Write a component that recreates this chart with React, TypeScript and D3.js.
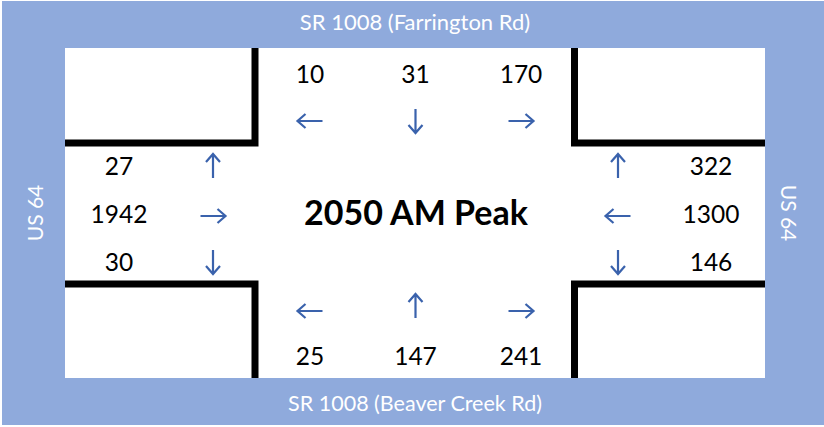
import React from 'react';
import * as d3 from 'd3';

// turning movement volumes per approach, in slot order
const northVolumes = [10, 31, 170];
const northArrows = ['W', 'S', 'E'];
const southVolumes = [25, 147, 241];
const southArrows = ['W', 'N', 'E'];
const westVolumes = [27, 1942, 30];
const westArrows = ['N', 'E', 'S'];
const eastVolumes = [322, 1300, 146];
const eastArrows = ['N', 'W', 'S'];

const title = '2050 AM Peak';
const northRoad = 'SR 1008 (Farrington Rd)';
const southRoad = 'SR 1008 (Beaver Creek Rd)';
const westRoad = 'US 64';
const eastRoad = 'US 64';

const width = 824;
const height = 427;
const blue = '#8FAADC';
const arrowColor = '#3A62AC';
const font = "Lato, 'Open Sans', sans-serif";

// inner white area and road edges
const inner = { x0: 65, x1: 765, y0: 48, y1: 378 };
const road = { left: 255, right: 574.5, top: 143, bottom: 284 };

const slotX = d3.scalePoint<number>().domain([0, 1, 2]).range([310, 521]);
const slotY = d3.scalePoint<number>().domain([0, 1, 2]).range([166, 262]);

const dirs: Record<string, [number, number]> = {
  E: [1, 0],
  W: [-1, 0],
  N: [0, -1],
  S: [0, 1]
};

const arrowPath = (cx: number, cy: number, dir: string) => {
  const [ux, uy] = dirs[dir];
  const len = ux === 0 ? 24 : 25;
  const back = 8;
  const side = 7;
  const px = -uy;
  const py = ux;
  const tipX = cx + (ux * len) / 2;
  const tipY = cy + (uy * len) / 2;
  const p = d3.path();
  p.moveTo(cx - (ux * len) / 2, cy - (uy * len) / 2);
  p.lineTo(tipX, tipY);
  p.moveTo(tipX - ux * back + px * side, tipY - uy * back + py * side);
  p.lineTo(tipX, tipY);
  p.lineTo(tipX - ux * back - px * side, tipY - uy * back - py * side);
  return p.toString();
};

type Mark = { value: number; dir: string; nx: number; ny: number; ax: number; ay: number };

const buildMarks = (): Mark[] => {
  const marks: Mark[] = [];
  northVolumes.forEach((v, i) => {
    const dir = northArrows[i];
    marks.push({ value: v, dir, nx: slotX(i)!, ny: 74, ax: slotX(i)!, ay: 121 });
  });
  southVolumes.forEach((v, i) => {
    const dir = southArrows[i];
    const ay = dir === 'N' ? 306 : 311;
    marks.push({ value: v, dir, nx: slotX(i)!, ny: 356, ax: slotX(i)!, ay });
  });
  westVolumes.forEach((v, i) => {
    const dir = westArrows[i];
    const ay = dir === 'E' ? slotY(i)! + 2 : slotY(i)!;
    marks.push({ value: v, dir, nx: 119, ny: slotY(i)!, ax: 213, ay });
  });
  eastVolumes.forEach((v, i) => {
    const dir = eastArrows[i];
    const ay = dir === 'W' ? slotY(i)! + 2 : slotY(i)!;
    marks.push({ value: v, dir, nx: 711, ny: slotY(i)!, ax: 618, ay });
  });
  return marks;
};

const App = () => {
  const marks = buildMarks();
  const cornerLines = [
    `M${inner.x0},${road.top}H${road.left}V${inner.y0}`,
    `M${inner.x1},${road.top}H${road.right}V${inner.y0}`,
    `M${inner.x0},${road.bottom}H${road.left}V${inner.y1}`,
    `M${inner.x1},${road.bottom}H${road.right}V${inner.y1}`
  ];

  return (
    <svg
      width={width}
      height={height}
      style={{ position: 'absolute', left: 0, top: 0, display: 'block' }}
      fontFamily={font}
    >
      <rect x={0} y={0} width={width} height={height} fill="#fff" />
      <rect x={2} y={1} width={width - 2} height={424} fill={blue} />
      <rect x={inner.x0} y={inner.y0} width={inner.x1 - inner.x0} height={inner.y1 - inner.y0} fill="#fff" />

      {cornerLines.map((d, i) => (
        <path key={i} d={d} fill="none" stroke="#000" strokeWidth={7} strokeLinejoin="miter" />
      ))}

      {/* road names */}
      <text x={415} y={22} dy="0.36em" textAnchor="middle" fill="#fff" fontSize={22}>
        {northRoad}
      </text>
      <text x={415} y={403} dy="0.36em" textAnchor="middle" fill="#fff" fontSize={21.5}>
        {southRoad}
      </text>
      <text transform="translate(35,213) rotate(-90)" dy="0.36em" textAnchor="middle" fill="#fff" fontSize={21}>
        {westRoad}
      </text>
      <text transform="translate(789,213) rotate(90)" dy="0.36em" textAnchor="middle" fill="#fff" fontSize={21}>
        {eastRoad}
      </text>

      {/* volumes and arrows */}
      {marks.map((m, i) => (
        <g key={i}>
          <text x={m.nx} y={m.ny} dy="0.36em" textAnchor="middle" fill="#000" fontSize={24.5}>
            {m.value}
          </text>
          <path d={arrowPath(m.ax, m.ay, m.dir)} fill="none" stroke={arrowColor} strokeWidth={2.2} />
        </g>
      ))}

      <text x={416} y={213} dy="0.36em" textAnchor="middle" fill="#000" fontSize={34} fontWeight="bold">
        {title}
      </text>
    </svg>
  );
};

export default App;
